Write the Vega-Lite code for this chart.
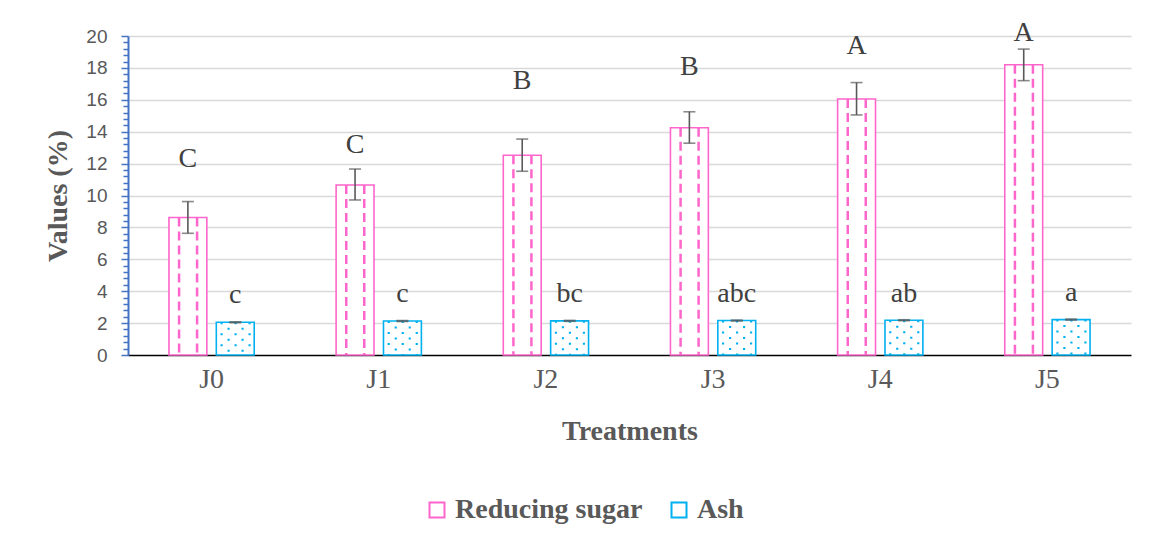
{
  "$schema": "https://vega.github.io/schema/vega-lite/v6.json",
  "autosize": "none",
  "width": 1003,
  "height": 319,
  "padding": {"left": 128, "top": 36, "right": 28, "bottom": 191},
  "background": "white",
  "config": {"view": {"stroke": null}},
  "data": {"values": [
    {"treatment": "J0", "series": "Reducing sugar", "value": 8.62, "lo": 7.63, "hi": 9.62, "letter": "C", "labelY": 11.8},
    {"treatment": "J1", "series": "Reducing sugar", "value": 10.66, "lo": 9.72, "hi": 11.66, "letter": "C", "labelY": 12.64},
    {"treatment": "J2", "series": "Reducing sugar", "value": 12.52, "lo": 11.52, "hi": 13.54, "letter": "B", "labelY": 16.66},
    {"treatment": "J3", "series": "Reducing sugar", "value": 14.25, "lo": 13.28, "hi": 15.25, "letter": "B", "labelY": 17.55},
    {"treatment": "J4", "series": "Reducing sugar", "value": 16.05, "lo": 15.05, "hi": 17.08, "letter": "A", "labelY": 18.87},
    {"treatment": "J5", "series": "Reducing sugar", "value": 18.2, "lo": 17.2, "hi": 19.18, "letter": "A", "labelY": 19.7},
    {"treatment": "J0", "series": "Ash", "value": 2.05, "lo": 2.02, "hi": 2.08, "letter": "c", "labelY": 3.25},
    {"treatment": "J1", "series": "Ash", "value": 2.13, "lo": 2.1, "hi": 2.16, "letter": "c", "labelY": 3.3},
    {"treatment": "J2", "series": "Ash", "value": 2.14, "lo": 2.11, "hi": 2.17, "letter": "bc", "labelY": 3.3},
    {"treatment": "J3", "series": "Ash", "value": 2.16, "lo": 2.13, "hi": 2.19, "letter": "abc", "labelY": 3.3},
    {"treatment": "J4", "series": "Ash", "value": 2.18, "lo": 2.15, "hi": 2.21, "letter": "ab", "labelY": 3.35},
    {"treatment": "J5", "series": "Ash", "value": 2.22, "lo": 2.19, "hi": 2.25, "letter": "a", "labelY": 3.4}
  ]},
  "encoding": {
    "x": {"field": "treatment", "type": "nominal", "sort": ["J0", "J1", "J2", "J3", "J4", "J5"],
      "scale": {"paddingInner": 0.49, "paddingOuter": 0.245},
      "axis": {"title": "Treatments", "titleFont": "Liberation Serif", "titleFontSize": 28, "titleFontWeight": "bold", "titleColor": "#595959", "titlePadding": 24,
        "labelFont": "Liberation Serif", "labelFontSize": 28, "labelColor": "#595959", "labelPadding": 10, "labelAngle": 0,
        "ticks": false, "domainColor": "#000000", "domainWidth": 1.5, "grid": false}}
  },
  "layer": [
    {
      "mark": {"type": "bar", "fill": "white", "strokeWidth": 1.6},
      "encoding": {
        "xOffset": {"field": "series", "type": "nominal", "sort": ["Reducing sugar", "Ash"], "scale": {"paddingInner": 0.2, "paddingOuter": 0}},
        "y": {"field": "value", "type": "quantitative", "scale": {"domain": [0, 20], "nice": false},
          "axis": {"title": "Values (%)", "titleFont": "Liberation Serif", "titleFontSize": 28, "titleFontWeight": "bold", "titleColor": "#595959", "titlePadding": 13,
            "tickCount": 100,
            "values": [0, 0.4, 0.8, 1.2, 1.6, 2, 2.4, 2.8, 3.2, 3.6, 4, 4.4, 4.8, 5.2, 5.6, 6, 6.4, 6.8, 7.2, 7.6, 8, 8.4, 8.8, 9.2, 9.6, 10, 10.4, 10.8, 11.2, 11.6, 12, 12.4, 12.8, 13.2, 13.6, 14, 14.4, 14.8, 15.2, 15.6, 16, 16.4, 16.8, 17.2, 17.6, 18, 18.4, 18.8, 19.2, 19.6, 20],
            "labelExpr": "abs(datum.value - round(datum.value / 2) * 2) < 0.01 ? format(datum.value, 'd') : ''",
            "labelOverlap": false, "labelBound": false,
            "labelFont": "Liberation Sans", "labelFontSize": 19, "labelColor": "#595959", "labelPadding": 14,
            "domainColor": "#4472C4", "domainWidth": 2, "tickColor": "#4472C4", "tickWidth": 1.5,
            "tickSize": {"condition": {"test": "abs(datum.value - round(datum.value / 2) * 2) < 0.01", "value": 7}, "value": 5},
            "grid": true, "gridWidth": 1.5,
            "gridColor": {"condition": {"test": "abs(datum.value - round(datum.value / 2) * 2) < 0.01 && datum.value > 0", "value": "#D9D9D9"}, "value": "transparent"}}},
        "stroke": {"field": "series", "type": "nominal", "sort": ["Reducing sugar", "Ash"],
          "scale": {"domain": ["Reducing sugar", "Ash"], "range": ["#FF66CC", "#00B0F0"]},
          "legend": {"title": null, "orient": "none", "legendX": 295, "legendY": 460, "direction": "horizontal",
            "symbolType": "square", "symbolSize": 225, "symbolStrokeWidth": 2, "symbolFillColor": "white",
            "labelFont": "Liberation Serif", "labelFontSize": 28, "labelFontWeight": "bold", "labelColor": "#595959",
            "labelOffset": 4, "labelLimit": 500, "columnPadding": 22}}
      }
    },
    {
      "transform": [{"filter": "datum.series === 'Reducing sugar'"}],
      "layer": [
        {"mark": {"type": "rule", "color": "#FF66CC", "strokeWidth": 2.5, "strokeDash": [9, 5], "xOffset": -32.5},
          "encoding": {"y": {"field": "value", "type": "quantitative"}, "y2": {"datum": 0}}},
        {"mark": {"type": "rule", "color": "#FF66CC", "strokeWidth": 2.5, "strokeDash": [9, 5], "xOffset": -14.5},
          "encoding": {"y": {"field": "value", "type": "quantitative"}, "y2": {"datum": 0}}},
        {"mark": {"type": "rule", "color": "#595959", "strokeWidth": 1.6, "xOffset": -23.7},
          "encoding": {"y": {"field": "lo", "type": "quantitative"}, "y2": {"field": "hi"}}},
        {"mark": {"type": "tick", "color": "#595959", "thickness": 1.6, "size": 12, "xOffset": -23.7},
          "encoding": {"y": {"field": "lo", "type": "quantitative"}}},
        {"mark": {"type": "tick", "color": "#595959", "thickness": 1.6, "size": 12, "xOffset": -23.7},
          "encoding": {"y": {"field": "hi", "type": "quantitative"}}},
        {"mark": {"type": "text", "font": "Liberation Serif", "fontSize": 28, "color": "#404040", "baseline": "alphabetic", "align": "center", "xOffset": -23.7},
          "encoding": {"y": {"field": "labelY", "type": "quantitative"}, "text": {"field": "letter"}}}
      ]
    },
    {
      "transform": [{"filter": "datum.series === 'Ash'"}],
      "layer": [
        {"mark": {"type": "rule", "color": "#00B0F0", "strokeWidth": 2.2, "strokeDash": [2, 9], "strokeDashOffset": 0, "xOffset": 10},
          "encoding": {"y": {"field": "value", "type": "quantitative"}, "y2": {"datum": 0}}},
        {"mark": {"type": "rule", "color": "#00B0F0", "strokeWidth": 2.2, "strokeDash": [2, 9], "strokeDashOffset": 5.5, "xOffset": 17},
          "encoding": {"y": {"field": "value", "type": "quantitative"}, "y2": {"datum": 0}}},
        {"mark": {"type": "rule", "color": "#00B0F0", "strokeWidth": 2.2, "strokeDash": [2, 9], "strokeDashOffset": 0, "xOffset": 24},
          "encoding": {"y": {"field": "value", "type": "quantitative"}, "y2": {"datum": 0}}},
        {"mark": {"type": "rule", "color": "#00B0F0", "strokeWidth": 2.2, "strokeDash": [2, 9], "strokeDashOffset": 5.5, "xOffset": 31},
          "encoding": {"y": {"field": "value", "type": "quantitative"}, "y2": {"datum": 0}}},
        {"mark": {"type": "rule", "color": "#00B0F0", "strokeWidth": 2.2, "strokeDash": [2, 9], "strokeDashOffset": 0, "xOffset": 38},
          "encoding": {"y": {"field": "value", "type": "quantitative"}, "y2": {"datum": 0}}},
        {"mark": {"type": "rule", "color": "#595959", "strokeWidth": 1.6, "xOffset": 23.7},
          "encoding": {"y": {"field": "lo", "type": "quantitative"}, "y2": {"field": "hi"}}},
        {"mark": {"type": "tick", "color": "#595959", "thickness": 1.6, "size": 12, "xOffset": 23.7},
          "encoding": {"y": {"field": "lo", "type": "quantitative"}}},
        {"mark": {"type": "tick", "color": "#595959", "thickness": 1.6, "size": 12, "xOffset": 23.7},
          "encoding": {"y": {"field": "hi", "type": "quantitative"}}},
        {"mark": {"type": "text", "font": "Liberation Serif", "fontSize": 28, "color": "#404040", "baseline": "alphabetic", "align": "center", "xOffset": 23.7},
          "encoding": {"y": {"field": "labelY", "type": "quantitative"}, "text": {"field": "letter"}}}
      ]
    }
  ]
}
